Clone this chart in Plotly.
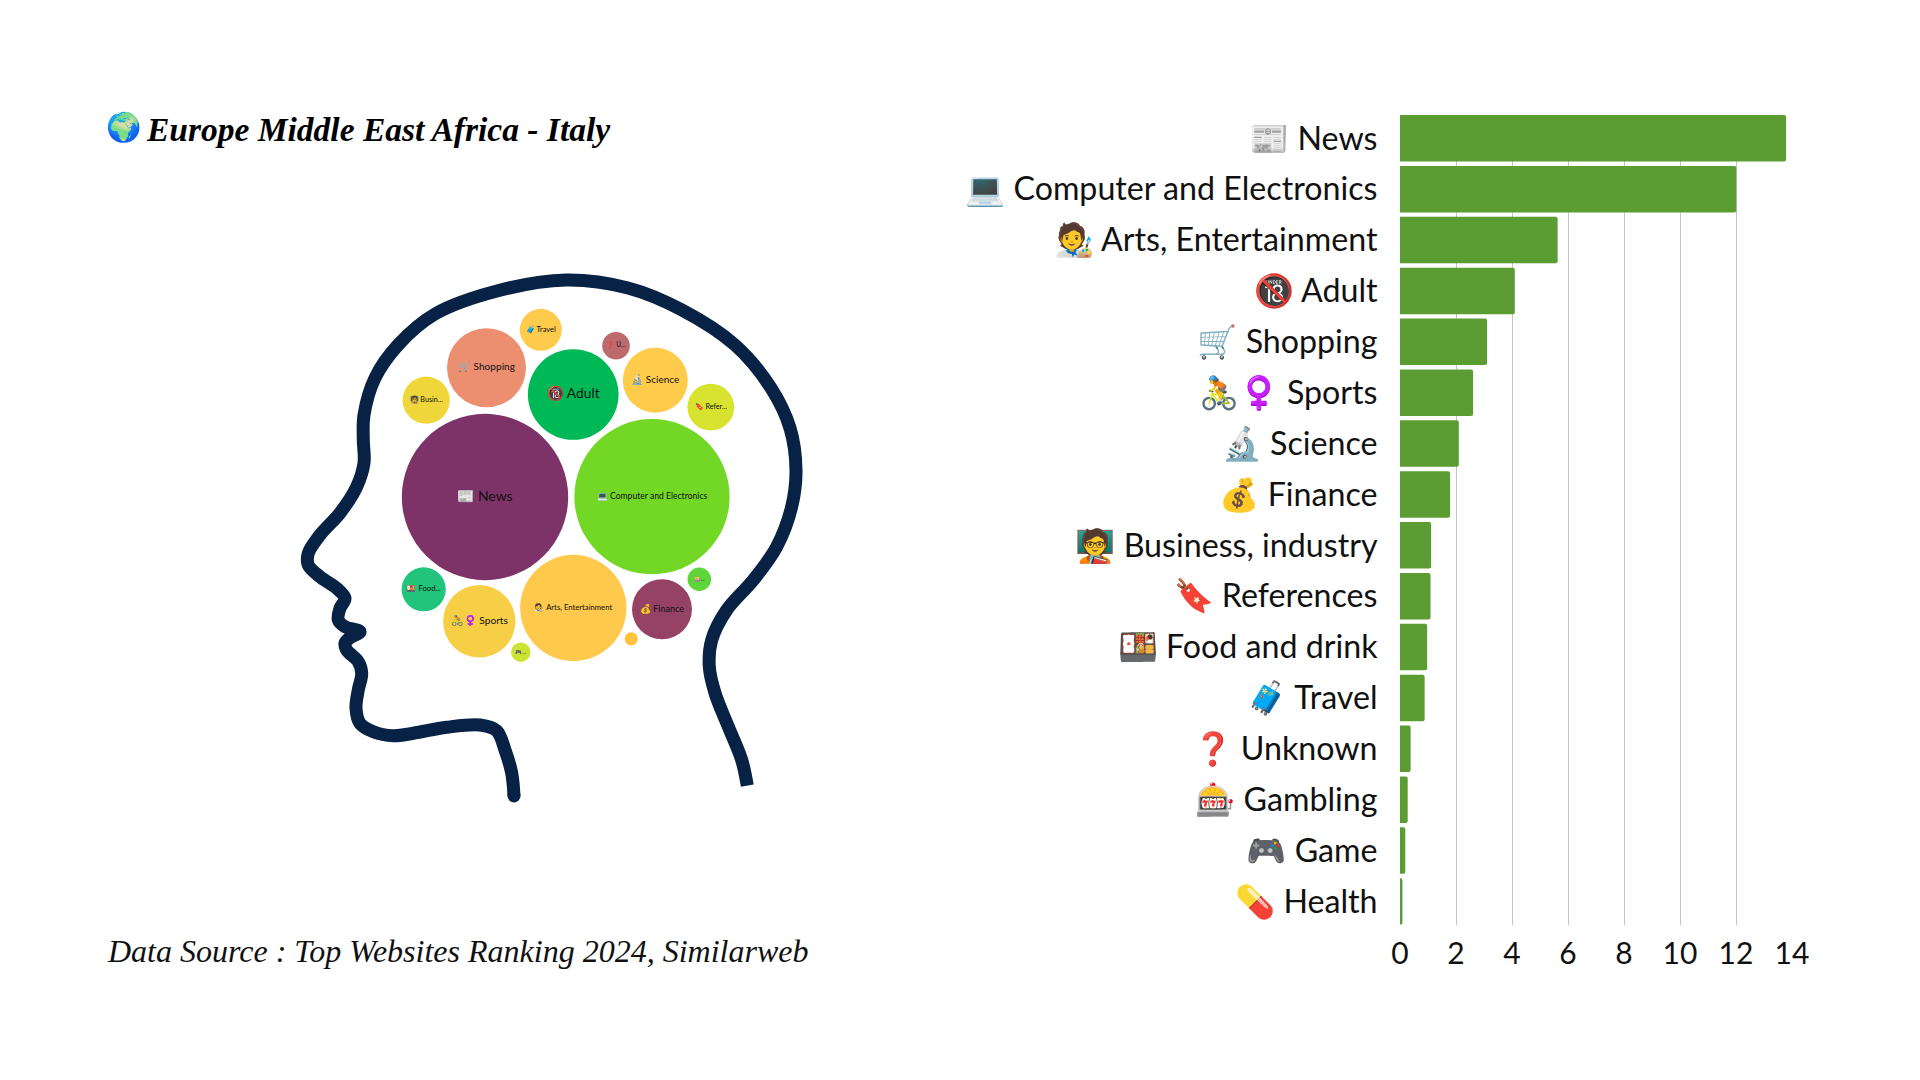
import plotly.graph_objects as go

FONT = "Lato"
SERIF = "Liberation Serif"

categories = ["News", "Computer and Electronics", "Arts, Entertainment", "Adult", "Shopping", "Sports",
              "Science", "Finance", "Business, industry", "References", "Food and drink", "Travel",
              "Unknown", "Gambling", "Game", "Health"]
emoji = ["📰", "💻", "🧑‍🎨", "🔞", "🛒", "🚴♀️", "🔬", "💰", "🧑‍🏫", "🔖", "🍱", "🧳", "❓", "🎰", "🎮", "💊"]
values = [13.79, 12.01, 5.63, 4.1, 3.11, 2.61, 2.1, 1.79, 1.11, 1.09, 0.97, 0.88, 0.38, 0.275, 0.19, 0.086]
x_ticks = [0, 2, 4, 6, 8, 10, 12, 14]

bubble_text = ["News", "Computer and Electronics", "Arts, Entertainment", "Adult", "Shopping", "Sports",
               "Science", "Finance", "Busin...", "Refer...", "Food...", "Travel", "U...", "...", "...", ""]
bubble_x = [485, 652, 573.3, 573.2, 486.5, 479.3, 655.3, 662, 426.2, 710.8, 423.7, 540.8, 616, 699.3, 520.8, 631.2]
bubble_y = [497, 496.7, 608, 394.5, 367.8, 621.3, 380.3, 609.3, 400.2, 407.2, 589.3, 329.8, 345.7, 579.3, 652.2, 638.8]
bubble_font = [14, 8.6, 7.7, 13.8, 10.1, 10.2, 10, 9, 7.2, 7.2, 7.7, 7.5, 6.6, 5.5, 5.5, 5.5]
bubble_colors = ["#7E3368", "#72D725", "#FFC94D", "#00B956", "#EC8F70", "#F7CF47", "#FFCB4A", "#954264",
                 "#EFD73B", "#D8E330", "#22C47B", "#FFCB4D", "#BC6A6E", "#5ED63A", "#CBE433", "#FFC33A"]
bubble_size = [44.8 * v ** 0.5 for v in values]

head_x = [514, 511.7, 505, 496.7, 480, 446.7, 413.3, 393.3, 373.3, 360, 356, 358.3, 361.7, 358.3, 346.7, 345, 349.3,
          360, 345, 338.3, 340, 345, 336.7, 320, 308.3, 308.3, 320, 340, 356.7, 364, 363.3, 364, 375, 398, 435, 497, 566,
          628, 682, 735, 771, 790, 796, 791.7, 776.7, 753.3, 726.7, 711.7, 709.3, 715, 728.3, 741.7, 747.3]
head_y = [796, 773, 750, 730.7, 725, 727.3, 733.3, 735.7, 731.7, 723.3, 708.3, 690, 673.3, 661.7, 650, 643.3, 638.3,
          631.7, 626.7, 620, 608.3, 598.3, 588.3, 576.7, 565, 553.3, 535, 513, 486.7, 463, 440, 415, 378, 345, 314, 291, 280,
          288, 310, 345, 388, 428, 470, 506.7, 546.7, 580, 610, 640, 666.7, 693, 726.7, 760, 785.7]

fig = go.Figure()
fig.add_trace(go.Scatter(x=head_x, y=head_y, mode="lines", xaxis="x", yaxis="y",
                         line=dict(color="#082245", width=13, shape="spline", smoothing=1),
                         hoverinfo="skip", showlegend=False))
fig.add_trace(go.Scatter(
    x=head_x[:1], y=head_y[:1], mode="markers", xaxis="x", yaxis="y", hoverinfo="skip", showlegend=False,
    marker=dict(size=13, color="#082245", line=dict(width=0)),
))
fig.add_trace(go.Scatter(
    x=bubble_x, y=bubble_y, mode="markers+text", xaxis="x", yaxis="y", showlegend=False,
    marker=dict(size=bubble_size, sizemode="diameter", color=bubble_colors, line=dict(width=0), opacity=1),
    text=[("" if not t else e + t if t == "..." else e + " " + t) for e, t in zip(emoji, bubble_text)],
    textposition="middle center",
    textfont=dict(family=FONT, size=bubble_font, color="#111111"),
))
fig.add_trace(go.Bar(
    x=values, y=[e + " " + c for e, c in zip(emoji, categories)], orientation="h", xaxis="x2", yaxis="y2",
    marker=dict(color="#5B9D32", line=dict(width=0), cornerradius=2), width=0.915, showlegend=False,
))
fig.update_layout(
    width=1920, height=1080, margin=dict(l=0, r=0, t=0, b=0), paper_bgcolor="white", plot_bgcolor="rgba(0,0,0,0)",
    xaxis=dict(domain=[0, 1], range=[0, 1920], visible=False, automargin=False),
    yaxis=dict(domain=[0, 1], range=[1080, 0], visible=False, automargin=False),
    xaxis2=dict(domain=[1400 / 1920, 1792 / 1920], range=[0, 14], anchor="y2", tickvals=x_ticks, automargin=False,
                showgrid=True, gridcolor="#C4C4C4", gridwidth=1, zeroline=False, showline=False,
                ticks="outside", ticklen=2, tickcolor="rgba(0,0,0,0)",
                tickfont=dict(family=FONT, size=30, color="#111111")),
    yaxis2=dict(domain=[1 - 924.7 / 1080, 1 - 115 / 1080], range=[15.4575, -0.4575], anchor="x2", automargin=False,
                type="category", showgrid=False, zeroline=False, showline=False,
                ticks="outside", ticklen=15, tickcolor="rgba(0,0,0,0)",
                tickfont=dict(family=FONT, size=32.2, color="#111111")),
    annotations=[
        dict(text="🌍", x=104, y=127, xref="x", yref="y", xanchor="left", yanchor="middle", showarrow=False,
             font=dict(family=SERIF, size=28.5)),
        dict(text="<b><i>Europe Middle East Africa - Italy</i></b>", x=143.5, y=129, xref="x", yref="y",
             xanchor="left", yanchor="middle", showarrow=False, font=dict(family=SERIF, size=33.5, color="black")),
        dict(text="<i>Data Source : Top Websites Ranking 2024, Similarweb</i>", x=104.5, y=951, xref="x", yref="y",
             xanchor="left", yanchor="middle", showarrow=False, font=dict(family=SERIF, size=32, color="#111111")),
    ],
)
fig.write_html("out.html", post_script="document.body.style.margin='0';", config=dict(displayModeBar=False))
